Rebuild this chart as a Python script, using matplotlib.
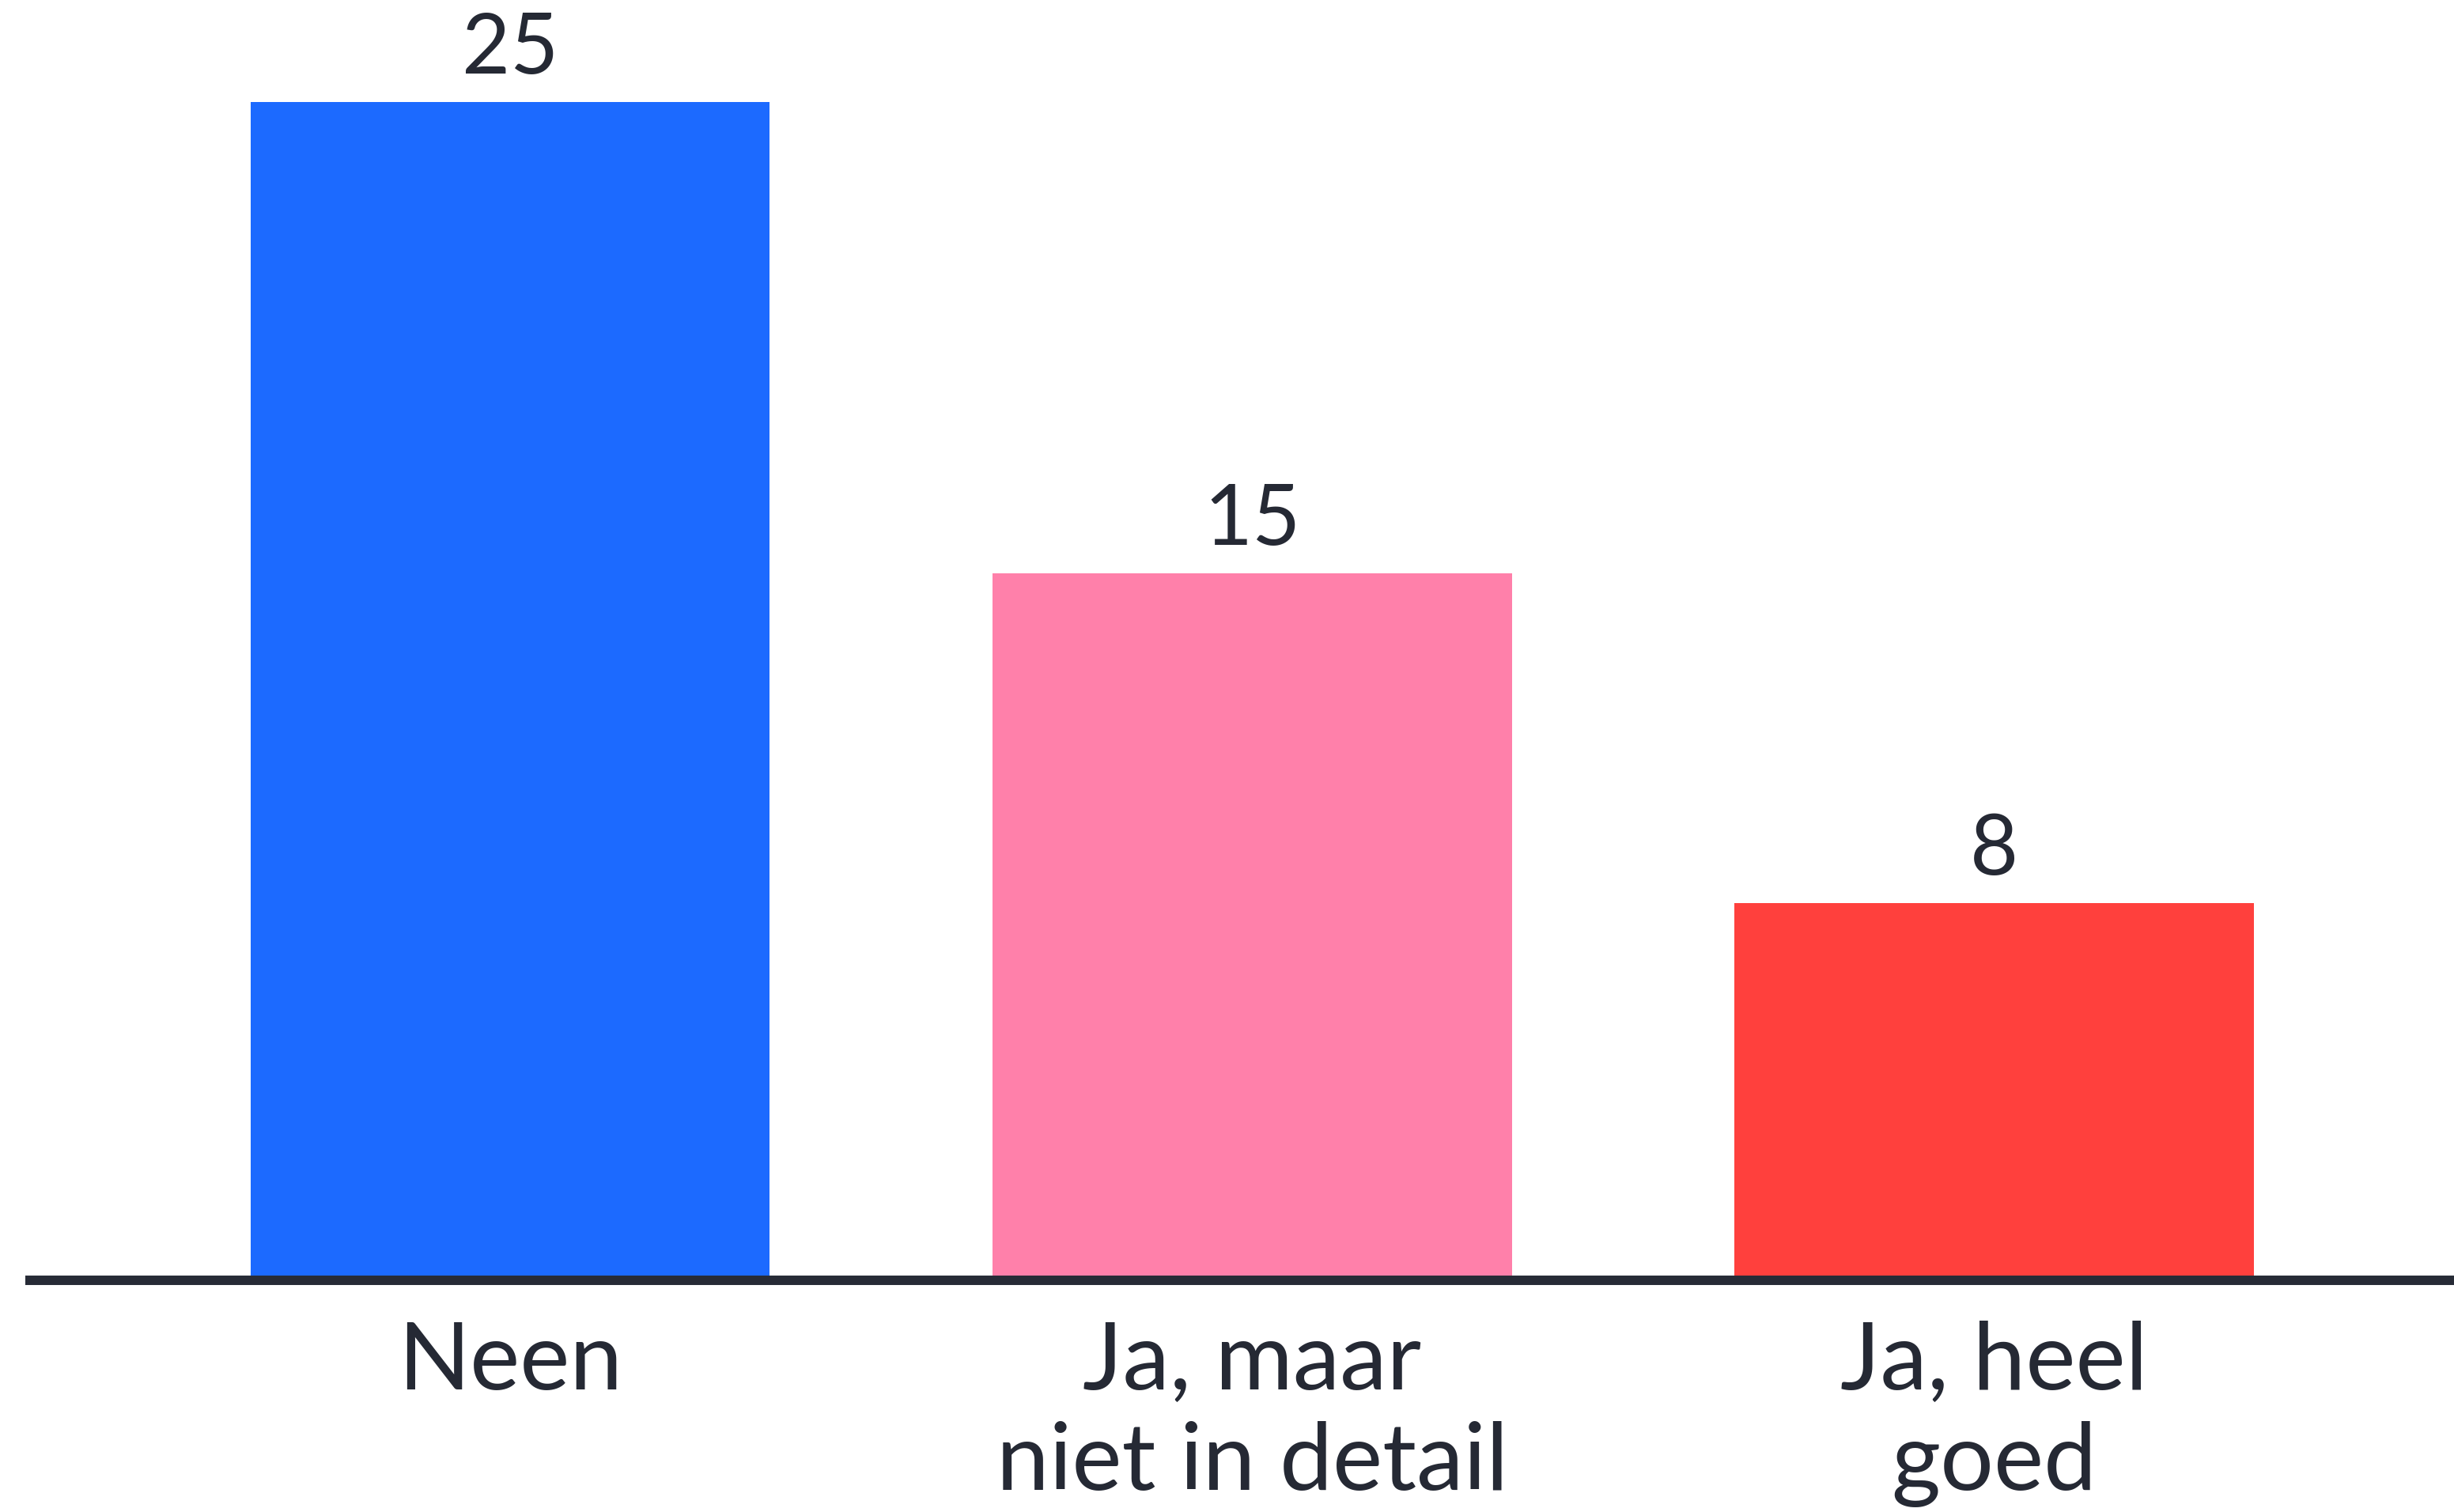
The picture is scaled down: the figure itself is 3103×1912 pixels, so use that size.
import matplotlib
matplotlib.use("Agg")
import matplotlib.pyplot as plt

# ── Datos ─────────────────────────────────────────────────────────────────────
categorias = ["Neen", "Ja, maar\nniet in detail", "Ja, heel\ngoed"]
valores = [25, 15, 8]
colores = ["#1C6AFF", "#FF80AA", "#FF403D"]

TEXTO = "#252934"
LINEA = "#272B36"

plt.rcParams["font.family"] = ["Lato", "DejaVu Sans"]

fig = plt.figure(figsize=(31.03, 19.12), dpi=100)
ax = fig.add_axes([0.0103, 0.1532, 0.9897, 0.8468])

x = list(range(len(valores)))
ax.bar(x, valores, width=0.70, color=colores, zorder=2)

# valores sobre cada barra
for xi, v in zip(x, valores):
    ax.annotate(str(v), (xi, v), xytext=(0, 26), textcoords="offset points",
                ha="center", va="baseline", fontsize=76, color=TEXTO)

# etiquetas de categoría, línea por línea
trans = ax.get_xaxis_transform()
for xi, lab in zip(x, categorias):
    for k, linea in enumerate(lab.split("\n")):
        ax.text(xi, -0.0852 - 0.0784 * k, linea, transform=trans,
                ha="center", va="baseline", fontsize=86, color=TEXTO)

ax.set_xlim(-0.6535, 2.62)
ax.set_ylim(0, 27.16)
for s in ["top", "right", "left"]:
    ax.spines[s].set_visible(False)
ax.spines["bottom"].set_linewidth(8.6)
ax.spines["bottom"].set_color(LINEA)
ax.spines["bottom"].set_capstyle("butt")
ax.spines["bottom"].set_zorder(3)
ax.set_xticks([])
ax.set_yticks([])

fig.savefig("out.png", dpi=100, facecolor="white")
